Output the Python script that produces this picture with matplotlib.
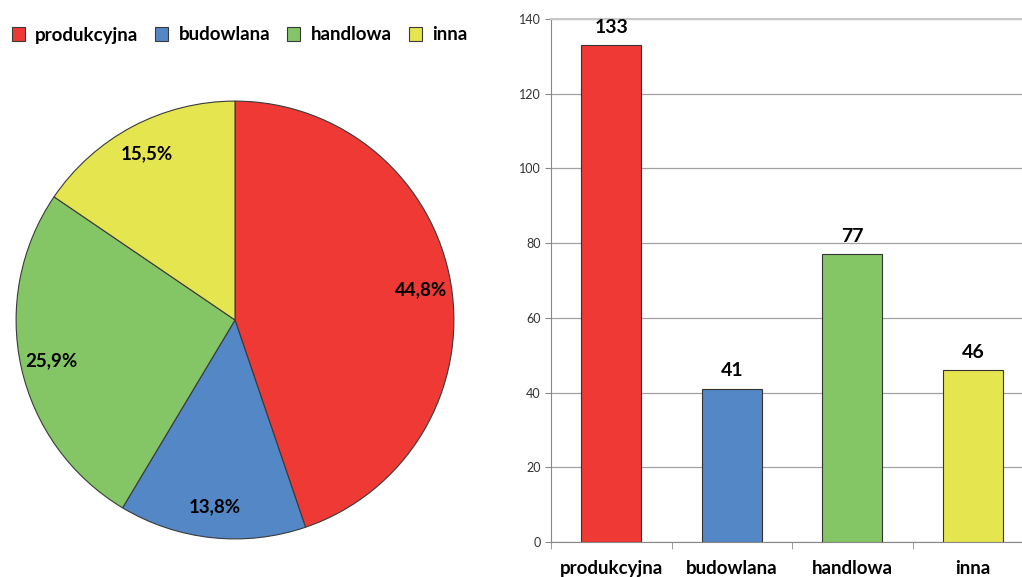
import numpy as np
import matplotlib.pyplot as plt

# data
categories = ['produkcyjna', 'budowlana', 'handlowa', 'inna']
counts = [133, 41, 77, 46]
colors = ['#EE3935', '#5387C6', '#84C666', '#E5E54F']
y_ticks = [0, 20, 40, 60, 80, 100, 120, 140]

plt.rcParams['font.family'] = ['Lato', 'DejaVu Sans']

fig = plt.figure(figsize=(10.22, 5.77), dpi=100)

# pie chart
ax1 = fig.add_axes([15/1022, 1 - 540/577, 440/1022, 440/577])


def fmt_pct(p):
    return ('%.1f%%' % p).replace('.', ',')


wedges, texts, autotexts = ax1.pie(
    counts, colors=colors, startangle=90, counterclock=False,
    autopct=fmt_pct, pctdistance=0.86, radius=1,
    wedgeprops={'edgecolor': '#3a3a3a', 'linewidth': 0.8})
for t in autotexts:
    t.set_fontsize(13.5)
    t.set_fontweight('bold')
    t.set_color('black')
ax1.set_xlim(-1.005, 1.005)
ax1.set_ylim(-1.005, 1.005)

fig.legend(wedges, categories, loc='center left',
           bbox_to_anchor=(-0.005, 1 - 35/577), ncol=4, frameon=False,
           prop={'weight': 'bold', 'size': 13.5}, handlelength=0.7,
           handleheight=0.7, handletextpad=0.55, columnspacing=0.9)

# bar chart
ax2 = fig.add_axes([551/1022, 1 - 542/577, 482/1022, 523/577])
x = np.arange(len(categories))
ax2.bar(x, counts, width=0.5, color=colors, edgecolor='#333333',
        linewidth=0.8, zorder=3)
for xi, v in zip(x, counts):
    ax2.text(xi, v + 2.5, str(v), ha='center', va='bottom',
             fontsize=14, fontweight='bold')

ax2.set_xlim(-0.5, 3.5)
ax2.set_ylim(0, 140)
ax2.set_yticks(y_ticks)
ax2.set_xticks(x)
ax2.set_xticklabels(categories, fontsize=13.5, fontweight='bold')
ax2.set_xticks(np.arange(-0.5, 4, 1), minor=True)
ax2.tick_params(axis='x', which='major', length=0, pad=13)
ax2.tick_params(axis='x', which='minor', length=5, color='#888888')
ax2.tick_params(axis='y', length=4, color='#888888', labelsize=9,
                labelcolor='#333333')
ax2.yaxis.grid(True, color='#a0a0a0', linewidth=0.9, zorder=0)
ax2.set_axisbelow(True)
for s in ['top', 'right']:
    ax2.spines[s].set_visible(False)
ax2.spines['left'].set_color('#888888')
ax2.spines['bottom'].set_color('#888888')
ax2.spines['top'].set_visible(True)
ax2.spines['top'].set_color('#c8c8c8')
ax2.spines['top'].set_linewidth(1.5)

fig.savefig('out.png', dpi=100)
